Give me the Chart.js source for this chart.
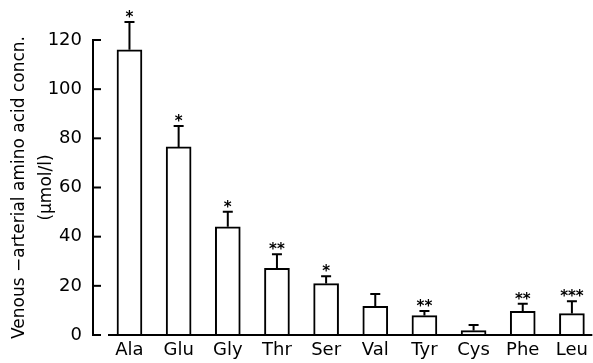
<!DOCTYPE html>
<html>
<head>
<meta charset="UTF-8">
<title>Venous-arterial amino acid concentration</title>
<script src="https://cdn.jsdelivr.net/npm/chart.js"></script>
<style>
  html, body { margin: 0; padding: 0; background: #fff; }
  #wrap { width: 593px; height: 363px; }
</style>
</head>
<body>
<div id="wrap"><canvas id="c" width="593" height="363"></canvas></div>
<script>
// data
const aminoAcids = ['Ala', 'Glu', 'Gly', 'Thr', 'Ser', 'Val', 'Tyr', 'Cys', 'Phe', 'Leu'];
const meanDiff = [116, 76.5, 44, 27.1, 20.9, 11.7, 7.9, 1.8, 9.6, 8.7];
const semDiff = [11.3, 8.5, 6.1, 5.7, 3.0, 5.0, 1.9, 2.3, 3.1, 5.0];
const signif = ['*', '*', '*', '**', '*', '', '**', '', '**', '***'];
const yTicks = [0, 20, 40, 60, 80, 100, 120];

const FONT = "'DejaVu Sans', sans-serif";

// error bars + significance marks, inward y ticks, detached baseline
const extras = {
  id: 'extras',
  afterDatasetsDraw(chart) {
    const ctx = chart.ctx;
    const xs = chart.scales.x, ys = chart.scales.y;
    const area = chart.chartArea;
    ctx.save();
    ctx.strokeStyle = '#000';
    ctx.fillStyle = '#000';
    ctx.lineWidth = 2;

    // baseline (starts a bit right of the y axis)
    ctx.beginPath();
    ctx.moveTo(area.left + 15, ys.getPixelForValue(0));
    ctx.lineTo(area.right, ys.getPixelForValue(0));
    ctx.stroke();

    // inward ticks on y axis
    yTicks.forEach(v => {
      const y = ys.getPixelForValue(v);
      ctx.beginPath();
      ctx.moveTo(area.left, y);
      ctx.lineTo(area.left + 8, y);
      ctx.stroke();
    });

    meanDiff.forEach((m, i) => {
      const x = xs.getPixelForValue(i);
      const y0 = ys.getPixelForValue(m);
      const y1 = ys.getPixelForValue(m + semDiff[i]);
      ctx.beginPath();
      ctx.moveTo(x, y0);
      ctx.lineTo(x, y1);
      ctx.moveTo(x - 5, y1);
      ctx.lineTo(x + 5, y1);
      ctx.stroke();
      if (signif[i]) {
        ctx.font = 'bold 15px ' + FONT;
        ctx.textAlign = 'center';
        ctx.textBaseline = 'middle';
        ctx.fillText(signif[i], x, y1 - 4);
      }
    });
    ctx.restore();
  }
};

new Chart(document.getElementById('c'), {
  type: 'bar',
  data: {
    datasets: [{
      data: aminoAcids.map((a, i) => ({ x: i, y: meanDiff[i] })),
      backgroundColor: '#fff',
      borderColor: '#000',
      borderWidth: 2,
      borderSkipped: 'bottom',
      barThickness: 25
    }]
  },
  options: {
    responsive: false,
    animation: false,
    layout: { padding: { top: 40, right: 0, left: 0, bottom: 0 } },
    plugins: { legend: { display: false }, tooltip: { enabled: false } },
    scales: {
      x: {
        type: 'linear',
        offset: false,
        min: -0.742,
        max: 9.416,
        grid: { display: false, drawTicks: false },
        border: { display: false },
        afterBuildTicks: s => { s.ticks = aminoAcids.map((_, i) => ({ value: i })); },
        afterFit: s => { s.height = 28; },
        ticks: {
          autoSkip: false,
          maxRotation: 0,
          padding: 5,
          color: '#000',
          font: { family: FONT, size: 18 },
          callback: v => aminoAcids[v]
        }
      },
      y: {
        min: 0,
        max: 120,
        afterBuildTicks: s => { s.ticks = yTicks.map(v => ({ value: v })); },
        afterFit: s => { s.width = 93; },
        grid: { display: false, drawTicks: false },
        border: { display: true, color: '#000', width: 2 },
        ticks: {
          padding: 11,
          color: '#000',
          font: { family: FONT, size: 18 }
        },
        title: {
          display: true,
          text: ['Venous \u2212arterial amino acid concn.', '(\u03bcmol/l)'],
          color: '#000',
          font: { family: FONT, size: 17, lineHeight: 1.6 },
          padding: { top: 6, bottom: 0 }
        }
      }
    }
  },
  plugins: [extras]
});
</script>
</body>
</html>
